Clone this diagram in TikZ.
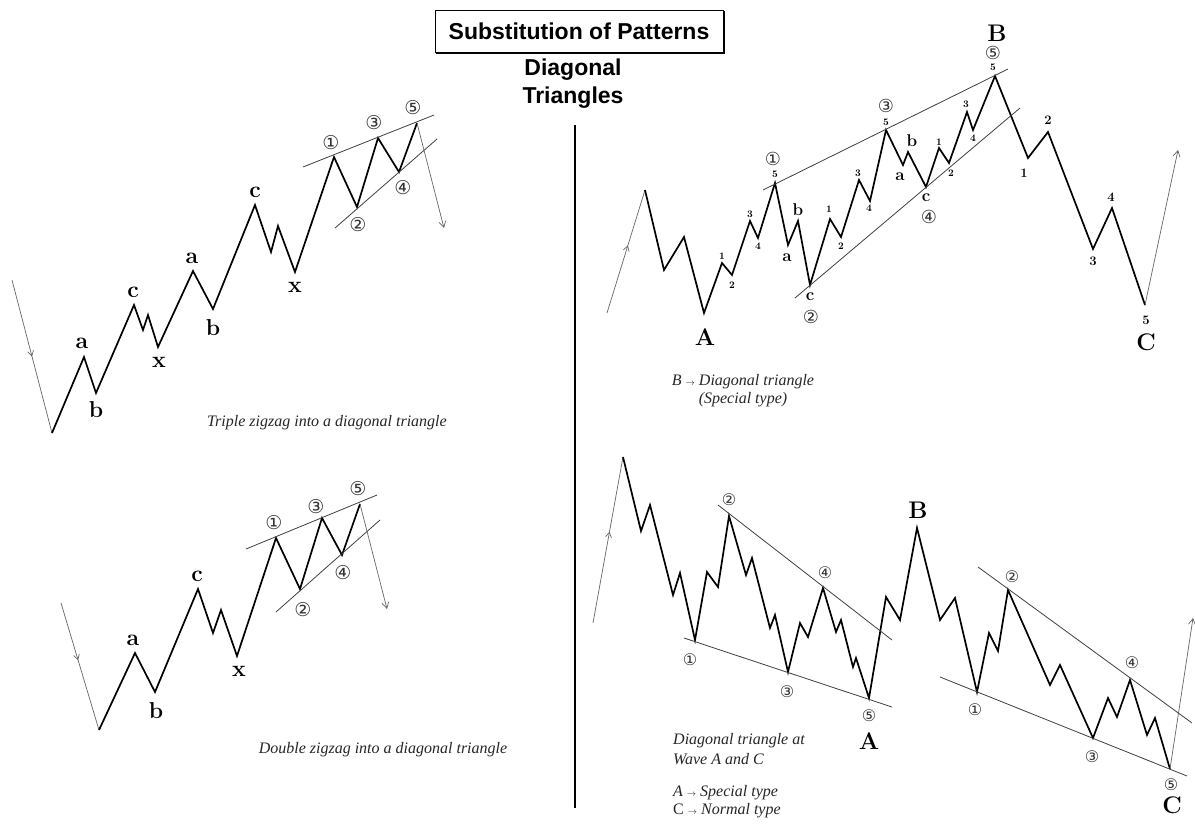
\documentclass[tikz,border=0pt]{standalone}
\usepackage{fontspec}
\newfontfamily\titlefont{Liberation Sans}
\newfontfamily\circfont{DejaVu Sans}
\newfontfamily\capfont{Liberation Serif}
\usetikzlibrary{arrows.meta,decorations.markings}
\tikzset{
  wave/.style={line width=1.7pt, line join=miter, black},
  thinline/.style={line width=0.7pt, black!60},
  guide/.style={line width=0.8pt, black!75},
  midarrow/.style={postaction={decorate}, decoration={markings, mark=at position #1 with {\arrow{Straight Barb[length=5pt,width=6pt]}}}},
  endarrow/.style={-{Straight Barb[length=6pt,width=7pt]}},
  lbl/.style={font=\fontsize{23}{23}\selectfont\bfseries, inner sep=0pt},
  slbl/.style={font=\fontsize{17}{17}\selectfont\bfseries, inner sep=0pt},
  dig/.style={font=\fontsize{10}{10}\selectfont\bfseries, inner sep=0pt},
  bdig/.style={font=\fontsize{13}{13}\selectfont\bfseries, inner sep=0pt},
  biglbl/.style={font=\fontsize{24}{24}\selectfont\bfseries, inner sep=0pt},
  circ/.style={font=\circfont\fontsize{19}{19}\selectfont, inner sep=0pt, text=black!80},
  mcirc/.style={font=\circfont\fontsize{18}{18}\selectfont, inner sep=0pt, text=black!80},
  scirc/.style={font=\circfont\fontsize{16}{16}\selectfont, inner sep=0pt, text=black!80},
  captext/.style={font=\capfont\fontsize{16}{20}\selectfont\itshape, text=black!85, inner sep=0pt},
  headtext/.style={font=\titlefont\bfseries\fontsize{23}{28}\selectfont, inner sep=0pt}
}
\begin{document}
\begin{tikzpicture}[x=1pt,y=-1pt]
\useasboundingbox (0,0) rectangle (1195,823);
\fill[white] (0,0) rectangle (1195,823);

% ---------- title ----------
\node[headtext, draw, line width=0.9pt, minimum width=288, minimum height=42] (title) at (579,31) {Substitution of Patterns};
\draw[line width=1.8pt] ([xshift=1pt,yshift=-1pt]title.south west) -- ([xshift=1pt,yshift=-1pt]title.south east) -- ([xshift=1pt,yshift=-1pt]title.north east);
\node[headtext, align=center] (subtitle) at (573,84) {Diagonal\\Triangles};
\coordinate (divtop) at (575,125);
\coordinate (divbot) at (575,808);
\draw[line width=1.8pt] (divtop) -- (divbot);

% ---------- top-left: triple zigzag ----------
\draw[thinline, midarrow=0.5] (12,280) -- (52,433);
\draw[wave] (52,433) -- (84,357) -- (96,393) -- (134,305) -- (143,330) -- (148,315) -- (158,347) -- (193,271) -- (213,309) -- (255,205) -- (271,252) -- (278,226) -- (295,272) -- (334,157) -- (357,207) -- (378,138) -- (399,172) -- (417,123);
\draw[guide] (303,167) -- (434,115);
\draw[guide] (335,228) -- (437,139);
\draw[thinline, endarrow] (417,123) -- (444,228);
\node[lbl] (tla1) at (82,343) {a};
\node[lbl] (tlb1) at (96,410) {b};
\node[lbl] (tlc1) at (133,292) {c};
\node[lbl] (tlx1) at (159,362) {x};
\node[lbl] (tla2) at (192,258) {a};
\node[lbl] (tlb2) at (213,328) {b};
\node[lbl] (tlc2) at (255,192) {c};
\node[lbl] (tlx2) at (295,287) {x};
\node[circ] (tlw1) at (331,143) {①};
\node[circ] (tlw2) at (358,225) {②};
\node[circ] (tlw3) at (374,123) {③};
\node[circ] (tlw4) at (403,188) {④};
\node[circ] (tlw5) at (413,108) {⑤};
\node[captext] (tlcap) at (327,423) {Triple zigzag into a diagonal triangle};

% ---------- bottom-left: double zigzag ----------
\draw[thinline, midarrow=0.45] (61,603) -- (99,730);
\draw[wave] (99,730) -- (135,653) -- (155,692) -- (198,589) -- (213,633) -- (221,610) -- (237,656) -- (276,538) -- (300,589) -- (322,518) -- (342,555) -- (360,504);
\draw[guide] (246,549) -- (377,495);
\draw[guide] (276,612) -- (380,520);
\draw[thinline, endarrow] (360,504) -- (387,609);
\node[lbl] (bla) at (133,640) {a};
\node[lbl] (blb) at (156,711) {b};
\node[lbl] (blc) at (197,576) {c};
\node[lbl] (blx) at (239,671) {x};
\node[circ] (blw1) at (274,523) {①};
\node[circ] (blw2) at (303,610) {②};
\node[circ] (blw3) at (316,507) {③};
\node[circ] (blw4) at (343,573) {④};
\node[circ] (blw5) at (358,489) {⑤};
\node[captext] (blcap) at (383,750) {Double zigzag into a diagonal triangle};

% ---------- top-right: B as diagonal triangle ----------
\draw[thinline, midarrow=0.55] (607,313) -- (645,190);
\draw[wave] (645,190) -- (664,270) -- (684,237) -- (704,313) -- (722,263) -- (732,275) -- (750,221) -- (758,238) -- (775,183) -- (788,245) -- (798,221) -- (810,285) -- (830,219) -- (841,237) -- (859,180) -- (870,201) -- (886,130) -- (903,165) -- (908,152) -- (926,187) -- (939,148) -- (949,163) -- (967,112) -- (973,130) -- (995,76) -- (1028,158) -- (1048,132) -- (1093,249) -- (1112,208) -- (1145,305);
\draw[thinline, endarrow] (1145,305) -- (1178,150);
\draw[guide] (763,190) -- (1008,69);
\draw[guide] (795,298) -- (1020,108);
\node[dig] (tr1a) at (722,256) {1};
\node[dig] (tr2a) at (732,285) {2};
\node[dig] (tr3a) at (750,214) {3};
\node[dig] (tr4a) at (758,246) {4};
\node[dig] (tr5a) at (775,174) {5};
\node[dig] (tr1b) at (829,209) {1};
\node[dig] (tr2b) at (841,246) {2};
\node[dig] (tr3b) at (858,173) {3};
\node[dig] (tr4b) at (869,208) {4};
\node[dig] (tr5b) at (886,122) {5};
\node[dig] (tr1c) at (939,142) {1};
\node[dig] (tr2c) at (951,173) {2};
\node[dig] (tr3c) at (966,104) {3};
\node[dig] (tr4c) at (973,138) {4};
\node[dig] (tr5c) at (993,67) {5};
\node[bdig] (trC1) at (1024,173) {1};
\node[bdig] (trC2) at (1048,120) {2};
\node[bdig] (trC3) at (1093,261) {3};
\node[bdig] (trC4) at (1111,197) {4};
\node[bdig] (trC5) at (1146,320) {5};
\node[slbl] (tra1) at (787,258) {a};
\node[slbl] (trb1) at (798,210) {b};
\node[slbl] (trc1) at (810,297) {c};
\node[slbl] (tra2) at (900,177) {a};
\node[slbl] (trb2) at (912,141) {b};
\node[slbl] (trc2) at (926,198) {c};
\node[mcirc] (trw1) at (773,159) {①};
\node[mcirc] (trw2) at (811,317) {②};
\node[mcirc] (trw3) at (886,106) {③};
\node[mcirc] (trw4) at (929,217) {④};
\node[mcirc] (trw5) at (993,53) {⑤};
\node[biglbl] (trA) at (705,337) {A};
\node[biglbl] (trB) at (997,33) {B};
\node[biglbl] (trC) at (1146,342) {C};
\node[captext, align=center, font=\capfont\fontsize{16}{18}\selectfont\itshape] (trcap) at (743,391) {B {\small$\rightarrow$} Diagonal triangle\\(Special type)};

% ---------- bottom-right: A and C as diagonal triangles ----------
\draw[thinline, midarrow=0.55] (593,623) -- (623,457);
\draw[wave] (623,457) -- (641,531) -- (650,505) -- (673,595) -- (680,573) -- (695,640) -- (707,572) -- (718,587) -- (729,516) -- (746,575) -- (752,558) -- (770,628) -- (775,615) -- (788,672) -- (800,623) -- (808,637) -- (823,588) -- (836,632) -- (841,620) -- (853,667) -- (856,658) -- (869,698) -- (886,597) -- (900,620) -- (917,528) -- (940,620) -- (955,598) -- (977,692) -- (989,633) -- (998,651) -- (1008,590) -- (1050,685) -- (1060,665) -- (1093,738) -- (1108,698) -- (1117,717) -- (1130,680) -- (1147,735) -- (1155,718) -- (1170,769);
\draw[thinline, endarrow] (1170,769) -- (1193,618);
\draw[guide] (718,505) -- (892,640);
\draw[guide] (684,638) -- (892,707);
\draw[guide] (978,567) -- (1192,723);
\draw[guide] (940,677) -- (1187,776);
\node[scirc] (brw1) at (690,660) {①};
\node[scirc] (brw2) at (729,500) {②};
\node[scirc] (brw3) at (787,692) {③};
\node[scirc] (brw4) at (825,573) {④};
\node[scirc] (brw5) at (869,716) {⑤};
\node[scirc] (brv1) at (975,710) {①};
\node[scirc] (brv2) at (1012,577) {②};
\node[scirc] (brv3) at (1092,757) {③};
\node[scirc] (brv4) at (1132,663) {④};
\node[scirc] (brv5) at (1171,785) {⑤};
\node[biglbl] (brA) at (869,741) {A};
\node[biglbl] (brB) at (918,510) {B};
\node[biglbl] (brC) at (1172,805) {C};
\node[captext, align=left, anchor=north west] (brcap1) at (673,733) {Diagonal triangle at\\Wave A and C};
\node[captext, align=left, anchor=north west, font=\capfont\fontsize{16}{18}\selectfont\itshape] (brcap2) at (673,785) {A {\small$\rightarrow$} Special type\\\upshape C {\small$\rightarrow$} \itshape Normal type};
\end{tikzpicture}
\end{document}
